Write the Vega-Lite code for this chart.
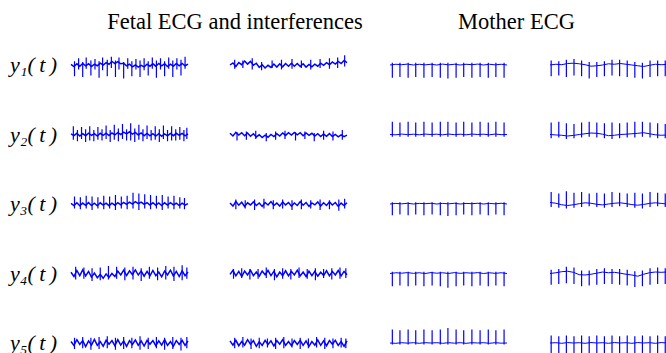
{
"$schema": "https://vega.github.io/schema/vega-lite/v6.json",
"padding": {"left": 10, "top": 10, "right": 0, "bottom": 0},
"background": "white",
"config": {"view": {"stroke": null}, "font": "Liberation Serif"},
"datasets": {
"fetal": [
{"r":1,"c":1,"x":0,"y":0.04},{"r":1,"c":1,"x":2.5,"y":-0.1},{"r":1,"c":1,"x":5,"y":0.08},{"r":1,"c":1,"x":7.5,"y":-0.08},{"r":1,"c":1,"x":10,"y":0.1},{"r":1,"c":1,"x":12.5,"y":-0.06},{"r":1,"c":1,"x":15,"y":0.08},{"r":1,"c":1,"x":17.5,"y":-0.1},{"r":1,"c":1,"x":20,"y":0.06},{"r":1,"c":1,"x":22.5,"y":-0.05},{"r":1,"c":1,"x":25,"y":0.12},{"r":1,"c":1,"x":27.5,"y":0.0},{"r":1,"c":1,"x":30,"y":0.16},{"r":1,"c":1,"x":32.5,"y":0.05},{"r":1,"c":1,"x":35,"y":0.24},{"r":1,"c":1,"x":37.5,"y":0.1},{"r":1,"c":1,"x":40,"y":0.22},{"r":1,"c":1,"x":42.5,"y":0.08},{"r":1,"c":1,"x":45,"y":0.12},{"r":1,"c":1,"x":47.5,"y":-0.06},{"r":1,"c":1,"x":50,"y":0.06},{"r":1,"c":1,"x":52.5,"y":-0.12},{"r":1,"c":1,"x":55,"y":0.0},{"r":1,"c":1,"x":57.5,"y":-0.14},{"r":1,"c":1,"x":60,"y":-0.02},{"r":1,"c":1,"x":62.5,"y":-0.12},{"r":1,"c":1,"x":65,"y":0.06},{"r":1,"c":1,"x":67.5,"y":-0.08},{"r":1,"c":1,"x":70,"y":0.08},{"r":1,"c":1,"x":72.5,"y":-0.08},{"r":1,"c":1,"x":75,"y":0.1},{"r":1,"c":1,"x":77.5,"y":-0.06},{"r":1,"c":1,"x":80,"y":0.08},{"r":1,"c":1,"x":82.5,"y":-0.1},{"r":1,"c":1,"x":85,"y":0.06},{"r":1,"c":1,"x":87.5,"y":-0.08},{"r":1,"c":1,"x":90,"y":0.1},{"r":1,"c":1,"x":92.5,"y":-0.06},{"r":1,"c":1,"x":95,"y":0.1},{"r":1,"c":1,"x":97.5,"y":-0.05},{"r":1,"c":1,"x":100,"y":0.06},
{"r":1,"c":1,"x":3,"y":-0.75,"y2":0.25},{"r":1,"c":1,"x":10,"y":-0.8,"y2":0.2},{"r":1,"c":1,"x":17,"y":-0.7,"y2":0.3},{"r":1,"c":1,"x":24,"y":-0.85,"y2":0.25},{"r":1,"c":1,"x":31,"y":-0.75,"y2":0.35},{"r":1,"c":1,"x":38,"y":-0.8,"y2":0.3},{"r":1,"c":1,"x":45,"y":-0.9,"y2":0.2},{"r":1,"c":1,"x":52,"y":-0.75,"y2":0.25},{"r":1,"c":1,"x":59,"y":-0.8,"y2":0.3},{"r":1,"c":1,"x":66,"y":-0.7,"y2":0.25},{"r":1,"c":1,"x":73,"y":-0.85,"y2":0.3},{"r":1,"c":1,"x":80,"y":-0.75,"y2":0.25},{"r":1,"c":1,"x":87,"y":-0.8,"y2":0.3},{"r":1,"c":1,"x":94,"y":-0.7,"y2":0.35},
{"r":1,"c":1,"x":6.5,"y":-0.3,"y2":0.45},{"r":1,"c":1,"x":13,"y":-0.25,"y2":0.5},{"r":1,"c":1,"x":20.5,"y":-0.3,"y2":0.4},{"r":1,"c":1,"x":27,"y":-0.35,"y2":0.5},{"r":1,"c":1,"x":34.5,"y":-0.2,"y2":0.55},{"r":1,"c":1,"x":41,"y":-0.3,"y2":0.5},{"r":1,"c":1,"x":48.5,"y":-0.25,"y2":0.45},{"r":1,"c":1,"x":55.5,"y":-0.3,"y2":0.4},{"r":1,"c":1,"x":62.5,"y":-0.35,"y2":0.45},{"r":1,"c":1,"x":69.5,"y":-0.25,"y2":0.5},{"r":1,"c":1,"x":76.5,"y":-0.3,"y2":0.45},{"r":1,"c":1,"x":83.5,"y":-0.25,"y2":0.5},{"r":1,"c":1,"x":90.5,"y":-0.3,"y2":0.45},{"r":1,"c":1,"x":97.5,"y":-0.25,"y2":0.55},

{"r":1,"c":2,"x":0,"y":0.0},{"r":1,"c":2,"x":2.5,"y":0.14},{"r":1,"c":2,"x":5,"y":-0.1},{"r":1,"c":2,"x":7.5,"y":0.16},{"r":1,"c":2,"x":10,"y":0.02},{"r":1,"c":2,"x":12.5,"y":0.26},{"r":1,"c":2,"x":15,"y":0.06},{"r":1,"c":2,"x":17.5,"y":0.24},{"r":1,"c":2,"x":20,"y":-0.02},{"r":1,"c":2,"x":22.5,"y":0.12},{"r":1,"c":2,"x":25,"y":-0.16},{"r":1,"c":2,"x":27.5,"y":0.02},{"r":1,"c":2,"x":30,"y":-0.2},{"r":1,"c":2,"x":32.5,"y":-0.02},{"r":1,"c":2,"x":35,"y":-0.16},{"r":1,"c":2,"x":37.5,"y":0.06},{"r":1,"c":2,"x":40,"y":-0.14},{"r":1,"c":2,"x":42.5,"y":0.08},{"r":1,"c":2,"x":45,"y":-0.12},{"r":1,"c":2,"x":47.5,"y":0.1},{"r":1,"c":2,"x":50,"y":-0.08},{"r":1,"c":2,"x":52.5,"y":0.12},{"r":1,"c":2,"x":55,"y":-0.08},{"r":1,"c":2,"x":57.5,"y":0.1},{"r":1,"c":2,"x":60,"y":-0.1},{"r":1,"c":2,"x":62.5,"y":0.08},{"r":1,"c":2,"x":65,"y":-0.14},{"r":1,"c":2,"x":67.5,"y":0.04},{"r":1,"c":2,"x":70,"y":-0.12},{"r":1,"c":2,"x":72.5,"y":0.06},{"r":1,"c":2,"x":75,"y":-0.08},{"r":1,"c":2,"x":77.5,"y":0.12},{"r":1,"c":2,"x":80,"y":-0.02},{"r":1,"c":2,"x":82.5,"y":0.16},{"r":1,"c":2,"x":85,"y":0.02},{"r":1,"c":2,"x":87.5,"y":0.2},{"r":1,"c":2,"x":90,"y":0.06},{"r":1,"c":2,"x":92.5,"y":0.24},{"r":1,"c":2,"x":95,"y":0.1},{"r":1,"c":2,"x":97.5,"y":0.3},{"r":1,"c":2,"x":100,"y":0.16},
{"r":1,"c":2,"x":4,"y":-0.25,"y2":0.35},{"r":1,"c":2,"x":11,"y":-0.2,"y2":0.3},{"r":1,"c":2,"x":19,"y":-0.3,"y2":0.45},{"r":1,"c":2,"x":27,"y":-0.35,"y2":0.2},{"r":1,"c":2,"x":36,"y":-0.2,"y2":0.3},{"r":1,"c":2,"x":44,"y":-0.3,"y2":0.35},{"r":1,"c":2,"x":53,"y":-0.25,"y2":0.4},{"r":1,"c":2,"x":61,"y":-0.2,"y2":0.3},{"r":1,"c":2,"x":69,"y":-0.3,"y2":0.35},{"r":1,"c":2,"x":77,"y":-0.2,"y2":0.4},{"r":1,"c":2,"x":85,"y":-0.25,"y2":0.45},{"r":1,"c":2,"x":92,"y":-0.2,"y2":0.5},{"r":1,"c":2,"x":98,"y":-0.1,"y2":0.65},

{"r":2,"c":1,"x":0,"y":0.04},{"r":2,"c":1,"x":2.5,"y":-0.08},{"r":2,"c":1,"x":5,"y":0.08},{"r":2,"c":1,"x":7.5,"y":-0.1},{"r":2,"c":1,"x":10,"y":0.06},{"r":2,"c":1,"x":12.5,"y":-0.08},{"r":2,"c":1,"x":15,"y":0.09},{"r":2,"c":1,"x":17.5,"y":-0.06},{"r":2,"c":1,"x":20,"y":0.05},{"r":2,"c":1,"x":22.5,"y":-0.1},{"r":2,"c":1,"x":25,"y":0.08},{"r":2,"c":1,"x":27.5,"y":-0.05},{"r":2,"c":1,"x":30,"y":0.09},{"r":2,"c":1,"x":32.5,"y":-0.07},{"r":2,"c":1,"x":35,"y":0.1},{"r":2,"c":1,"x":37.5,"y":-0.02},{"r":2,"c":1,"x":40,"y":0.12},{"r":2,"c":1,"x":42.5,"y":0.0},{"r":2,"c":1,"x":45,"y":0.16},{"r":2,"c":1,"x":47.5,"y":0.04},{"r":2,"c":1,"x":50,"y":0.18},{"r":2,"c":1,"x":52.5,"y":0.02},{"r":2,"c":1,"x":55,"y":0.14},{"r":2,"c":1,"x":57.5,"y":-0.03},{"r":2,"c":1,"x":60,"y":0.1},{"r":2,"c":1,"x":62.5,"y":-0.08},{"r":2,"c":1,"x":65,"y":0.07},{"r":2,"c":1,"x":67.5,"y":-0.09},{"r":2,"c":1,"x":70,"y":0.06},{"r":2,"c":1,"x":72.5,"y":-0.1},{"r":2,"c":1,"x":75,"y":0.05},{"r":2,"c":1,"x":77.5,"y":-0.12},{"r":2,"c":1,"x":80,"y":0.04},{"r":2,"c":1,"x":82.5,"y":-0.09},{"r":2,"c":1,"x":85,"y":0.07},{"r":2,"c":1,"x":87.5,"y":-0.08},{"r":2,"c":1,"x":90,"y":0.08},{"r":2,"c":1,"x":92.5,"y":-0.05},{"r":2,"c":1,"x":95,"y":0.07},{"r":2,"c":1,"x":97.5,"y":-0.09},{"r":2,"c":1,"x":100,"y":0.04},
{"r":2,"c":1,"x":2,"y":-0.35,"y2":0.55},{"r":2,"c":1,"x":9,"y":-0.3,"y2":0.5},{"r":2,"c":1,"x":16,"y":-0.4,"y2":0.55},{"r":2,"c":1,"x":23,"y":-0.35,"y2":0.5},{"r":2,"c":1,"x":30,"y":-0.3,"y2":0.6},{"r":2,"c":1,"x":37,"y":-0.35,"y2":0.65},{"r":2,"c":1,"x":44,"y":-0.3,"y2":0.7},{"r":2,"c":1,"x":51,"y":-0.4,"y2":0.75},{"r":2,"c":1,"x":58,"y":-0.35,"y2":0.65},{"r":2,"c":1,"x":65,"y":-0.3,"y2":0.6},{"r":2,"c":1,"x":72,"y":-0.35,"y2":0.55},{"r":2,"c":1,"x":79,"y":-0.3,"y2":0.6},{"r":2,"c":1,"x":86,"y":-0.4,"y2":0.55},{"r":2,"c":1,"x":93,"y":-0.35,"y2":0.5},{"r":2,"c":1,"x":99,"y":-0.3,"y2":0.45},
{"r":2,"c":1,"x":5.5,"y":-0.45,"y2":0.3},{"r":2,"c":1,"x":12.5,"y":-0.5,"y2":0.35},{"r":2,"c":1,"x":19.5,"y":-0.45,"y2":0.3},{"r":2,"c":1,"x":26.5,"y":-0.4,"y2":0.35},{"r":2,"c":1,"x":33.5,"y":-0.5,"y2":0.3},{"r":2,"c":1,"x":40.5,"y":-0.45,"y2":0.4},{"r":2,"c":1,"x":47.5,"y":-0.4,"y2":0.35},{"r":2,"c":1,"x":54.5,"y":-0.5,"y2":0.4},{"r":2,"c":1,"x":61.5,"y":-0.45,"y2":0.35},{"r":2,"c":1,"x":68.5,"y":-0.4,"y2":0.3},{"r":2,"c":1,"x":75.5,"y":-0.5,"y2":0.35},{"r":2,"c":1,"x":82.5,"y":-0.45,"y2":0.3},{"r":2,"c":1,"x":89.5,"y":-0.4,"y2":0.35},{"r":2,"c":1,"x":96.5,"y":-0.45,"y2":0.3},

{"r":2,"c":2,"x":0,"y":0.08},{"r":2,"c":2,"x":2.5,"y":-0.1},{"r":2,"c":2,"x":5,"y":0.14},{"r":2,"c":2,"x":7.5,"y":-0.04},{"r":2,"c":2,"x":10,"y":0.12},{"r":2,"c":2,"x":12.5,"y":-0.08},{"r":2,"c":2,"x":15,"y":0.1},{"r":2,"c":2,"x":17.5,"y":-0.12},{"r":2,"c":2,"x":20,"y":0.05},{"r":2,"c":2,"x":22.5,"y":-0.16},{"r":2,"c":2,"x":25,"y":-0.02},{"r":2,"c":2,"x":27.5,"y":-0.2},{"r":2,"c":2,"x":30,"y":-0.04},{"r":2,"c":2,"x":32.5,"y":-0.18},{"r":2,"c":2,"x":35,"y":0.0},{"r":2,"c":2,"x":37.5,"y":-0.14},{"r":2,"c":2,"x":40,"y":0.05},{"r":2,"c":2,"x":42.5,"y":-0.1},{"r":2,"c":2,"x":45,"y":0.1},{"r":2,"c":2,"x":47.5,"y":-0.06},{"r":2,"c":2,"x":50,"y":0.12},{"r":2,"c":2,"x":52.5,"y":-0.04},{"r":2,"c":2,"x":55,"y":0.14},{"r":2,"c":2,"x":57.5,"y":-0.02},{"r":2,"c":2,"x":60,"y":0.12},{"r":2,"c":2,"x":62.5,"y":-0.08},{"r":2,"c":2,"x":65,"y":0.1},{"r":2,"c":2,"x":67.5,"y":-0.06},{"r":2,"c":2,"x":70,"y":0.08},{"r":2,"c":2,"x":72.5,"y":-0.1},{"r":2,"c":2,"x":75,"y":0.05},{"r":2,"c":2,"x":77.5,"y":-0.14},{"r":2,"c":2,"x":80,"y":0.03},{"r":2,"c":2,"x":82.5,"y":-0.12},{"r":2,"c":2,"x":85,"y":0.06},{"r":2,"c":2,"x":87.5,"y":-0.14},{"r":2,"c":2,"x":90,"y":0.0},{"r":2,"c":2,"x":92.5,"y":-0.16},{"r":2,"c":2,"x":95,"y":-0.02},{"r":2,"c":2,"x":97.5,"y":-0.14},{"r":2,"c":2,"x":100,"y":-0.04},
{"r":2,"c":2,"x":6,"y":-0.4,"y2":0.15},{"r":2,"c":2,"x":14,"y":-0.35,"y2":0.2},{"r":2,"c":2,"x":22,"y":-0.3,"y2":0.25},{"r":2,"c":2,"x":31,"y":-0.45,"y2":0.1},{"r":2,"c":2,"x":39,"y":-0.35,"y2":0.2},{"r":2,"c":2,"x":47,"y":-0.3,"y2":0.25},{"r":2,"c":2,"x":56,"y":-0.4,"y2":0.15},{"r":2,"c":2,"x":64,"y":-0.3,"y2":0.2},{"r":2,"c":2,"x":72,"y":-0.45,"y2":0.1},{"r":2,"c":2,"x":80,"y":-0.35,"y2":0.25},{"r":2,"c":2,"x":88,"y":-0.4,"y2":0.2},{"r":2,"c":2,"x":96,"y":-0.35,"y2":0.3},

{"r":3,"c":1,"x":0,"y":0.04},{"r":3,"c":1,"x":2.5,"y":-0.1},{"r":3,"c":1,"x":5,"y":0.08},{"r":3,"c":1,"x":7.5,"y":-0.12},{"r":3,"c":1,"x":10,"y":0.06},{"r":3,"c":1,"x":12.5,"y":-0.09},{"r":3,"c":1,"x":15,"y":0.09},{"r":3,"c":1,"x":17.5,"y":-0.1},{"r":3,"c":1,"x":20,"y":0.05},{"r":3,"c":1,"x":22.5,"y":-0.12},{"r":3,"c":1,"x":25,"y":0.08},{"r":3,"c":1,"x":27.5,"y":-0.07},{"r":3,"c":1,"x":30,"y":0.06},{"r":3,"c":1,"x":32.5,"y":-0.11},{"r":3,"c":1,"x":35,"y":0.05},{"r":3,"c":1,"x":37.5,"y":-0.08},{"r":3,"c":1,"x":40,"y":0.09},{"r":3,"c":1,"x":42.5,"y":-0.06},{"r":3,"c":1,"x":45,"y":0.11},{"r":3,"c":1,"x":47.5,"y":-0.02},{"r":3,"c":1,"x":50,"y":0.13},{"r":3,"c":1,"x":52.5,"y":0.0},{"r":3,"c":1,"x":55,"y":0.15},{"r":3,"c":1,"x":57.5,"y":0.02},{"r":3,"c":1,"x":60,"y":0.13},{"r":3,"c":1,"x":62.5,"y":-0.03},{"r":3,"c":1,"x":65,"y":0.09},{"r":3,"c":1,"x":67.5,"y":-0.07},{"r":3,"c":1,"x":70,"y":0.08},{"r":3,"c":1,"x":72.5,"y":-0.09},{"r":3,"c":1,"x":75,"y":0.07},{"r":3,"c":1,"x":77.5,"y":-0.1},{"r":3,"c":1,"x":80,"y":0.08},{"r":3,"c":1,"x":82.5,"y":-0.07},{"r":3,"c":1,"x":85,"y":0.09},{"r":3,"c":1,"x":87.5,"y":-0.06},{"r":3,"c":1,"x":90,"y":0.05},{"r":3,"c":1,"x":92.5,"y":-0.1},{"r":3,"c":1,"x":95,"y":0.06},{"r":3,"c":1,"x":97.5,"y":-0.08},{"r":3,"c":1,"x":100,"y":0.02},
{"r":3,"c":1,"x":3,"y":-0.3,"y2":0.5},{"r":3,"c":1,"x":8,"y":-0.35,"y2":0.45},{"r":3,"c":1,"x":13,"y":-0.3,"y2":0.55},{"r":3,"c":1,"x":18,"y":-0.4,"y2":0.5},{"r":3,"c":1,"x":23,"y":-0.3,"y2":0.45},{"r":3,"c":1,"x":28,"y":-0.35,"y2":0.55},{"r":3,"c":1,"x":33,"y":-0.3,"y2":0.5},{"r":3,"c":1,"x":38,"y":-0.4,"y2":0.6},{"r":3,"c":1,"x":43,"y":-0.3,"y2":0.5},{"r":3,"c":1,"x":48,"y":-0.35,"y2":0.55},{"r":3,"c":1,"x":53,"y":-0.3,"y2":0.75},{"r":3,"c":1,"x":58,"y":-0.4,"y2":0.7},{"r":3,"c":1,"x":63,"y":-0.3,"y2":0.65},{"r":3,"c":1,"x":68,"y":-0.35,"y2":0.6},{"r":3,"c":1,"x":73,"y":-0.3,"y2":0.55},{"r":3,"c":1,"x":78,"y":-0.4,"y2":0.6},{"r":3,"c":1,"x":83,"y":-0.3,"y2":0.5},{"r":3,"c":1,"x":88,"y":-0.35,"y2":0.55},{"r":3,"c":1,"x":93,"y":-0.3,"y2":0.45},{"r":3,"c":1,"x":97,"y":-0.35,"y2":0.4},

{"r":3,"c":2,"x":0,"y":0.06},{"r":3,"c":2,"x":2.5,"y":-0.14},{"r":3,"c":2,"x":5,"y":0.16},{"r":3,"c":2,"x":7.5,"y":-0.08},{"r":3,"c":2,"x":10,"y":0.12},{"r":3,"c":2,"x":12.5,"y":-0.16},{"r":3,"c":2,"x":15,"y":0.08},{"r":3,"c":2,"x":17.5,"y":-0.06},{"r":3,"c":2,"x":20,"y":0.14},{"r":3,"c":2,"x":22.5,"y":-0.1},{"r":3,"c":2,"x":25,"y":0.07},{"r":3,"c":2,"x":27.5,"y":-0.16},{"r":3,"c":2,"x":30,"y":0.1},{"r":3,"c":2,"x":32.5,"y":-0.07},{"r":3,"c":2,"x":35,"y":0.16},{"r":3,"c":2,"x":37.5,"y":-0.1},{"r":3,"c":2,"x":40,"y":0.06},{"r":3,"c":2,"x":42.5,"y":-0.14},{"r":3,"c":2,"x":45,"y":0.14},{"r":3,"c":2,"x":47.5,"y":-0.06},{"r":3,"c":2,"x":50,"y":0.1},{"r":3,"c":2,"x":52.5,"y":-0.14},{"r":3,"c":2,"x":55,"y":0.07},{"r":3,"c":2,"x":57.5,"y":-0.1},{"r":3,"c":2,"x":60,"y":0.16},{"r":3,"c":2,"x":62.5,"y":-0.08},{"r":3,"c":2,"x":65,"y":0.1},{"r":3,"c":2,"x":67.5,"y":-0.16},{"r":3,"c":2,"x":70,"y":0.07},{"r":3,"c":2,"x":72.5,"y":-0.06},{"r":3,"c":2,"x":75,"y":0.14},{"r":3,"c":2,"x":77.5,"y":-0.14},{"r":3,"c":2,"x":80,"y":0.08},{"r":3,"c":2,"x":82.5,"y":-0.1},{"r":3,"c":2,"x":85,"y":0.14},{"r":3,"c":2,"x":87.5,"y":-0.07},{"r":3,"c":2,"x":90,"y":0.1},{"r":3,"c":2,"x":92.5,"y":-0.16},{"r":3,"c":2,"x":95,"y":0.06},{"r":3,"c":2,"x":97.5,"y":-0.1},{"r":3,"c":2,"x":100,"y":0.08},
{"r":3,"c":2,"x":5,"y":-0.35,"y2":0.3},{"r":3,"c":2,"x":13,"y":-0.3,"y2":0.25},{"r":3,"c":2,"x":21,"y":-0.4,"y2":0.3},{"r":3,"c":2,"x":29,"y":-0.3,"y2":0.35},{"r":3,"c":2,"x":37,"y":-0.35,"y2":0.25},{"r":3,"c":2,"x":45,"y":-0.3,"y2":0.3},{"r":3,"c":2,"x":53,"y":-0.4,"y2":0.25},{"r":3,"c":2,"x":61,"y":-0.35,"y2":0.3},{"r":3,"c":2,"x":69,"y":-0.3,"y2":0.25},{"r":3,"c":2,"x":77,"y":-0.4,"y2":0.3},{"r":3,"c":2,"x":85,"y":-0.35,"y2":0.25},{"r":3,"c":2,"x":93,"y":-0.45,"y2":0.3},{"r":3,"c":2,"x":98,"y":-0.3,"y2":0.35},

{"r":4,"c":1,"x":0,"y":0.08},{"r":4,"c":1,"x":2.5,"y":-0.2},{"r":4,"c":1,"x":5,"y":0.2},{"r":4,"c":1,"x":7.5,"y":-0.14},{"r":4,"c":1,"x":10,"y":0.24},{"r":4,"c":1,"x":12.5,"y":-0.16},{"r":4,"c":1,"x":15,"y":0.14},{"r":4,"c":1,"x":17.5,"y":-0.24},{"r":4,"c":1,"x":20,"y":0.03},{"r":4,"c":1,"x":22.5,"y":-0.28},{"r":4,"c":1,"x":25,"y":-0.06},{"r":4,"c":1,"x":27.5,"y":-0.32},{"r":4,"c":1,"x":30,"y":-0.03},{"r":4,"c":1,"x":32.5,"y":-0.26},{"r":4,"c":1,"x":35,"y":0.0},{"r":4,"c":1,"x":37.5,"y":-0.2},{"r":4,"c":1,"x":40,"y":0.16},{"r":4,"c":1,"x":42.5,"y":-0.1},{"r":4,"c":1,"x":45,"y":0.22},{"r":4,"c":1,"x":47.5,"y":-0.14},{"r":4,"c":1,"x":50,"y":0.18},{"r":4,"c":1,"x":52.5,"y":-0.08},{"r":4,"c":1,"x":55,"y":0.24},{"r":4,"c":1,"x":57.5,"y":-0.1},{"r":4,"c":1,"x":60,"y":0.16},{"r":4,"c":1,"x":62.5,"y":-0.18},{"r":4,"c":1,"x":65,"y":0.14},{"r":4,"c":1,"x":67.5,"y":-0.16},{"r":4,"c":1,"x":70,"y":0.2},{"r":4,"c":1,"x":72.5,"y":-0.14},{"r":4,"c":1,"x":75,"y":0.1},{"r":4,"c":1,"x":77.5,"y":-0.22},{"r":4,"c":1,"x":80,"y":0.16},{"r":4,"c":1,"x":82.5,"y":-0.1},{"r":4,"c":1,"x":85,"y":0.22},{"r":4,"c":1,"x":87.5,"y":-0.16},{"r":4,"c":1,"x":90,"y":0.14},{"r":4,"c":1,"x":92.5,"y":-0.2},{"r":4,"c":1,"x":95,"y":0.18},{"r":4,"c":1,"x":97.5,"y":-0.14},{"r":4,"c":1,"x":100,"y":0.1},
{"r":4,"c":1,"x":4,"y":-0.4,"y2":0.45},{"r":4,"c":1,"x":11,"y":-0.35,"y2":0.4},{"r":4,"c":1,"x":18,"y":-0.5,"y2":0.35},{"r":4,"c":1,"x":25,"y":-0.45,"y2":0.4},{"r":4,"c":1,"x":32,"y":-0.4,"y2":0.5},{"r":4,"c":1,"x":39,"y":-0.35,"y2":0.45},{"r":4,"c":1,"x":46,"y":-0.45,"y2":0.4},{"r":4,"c":1,"x":53,"y":-0.4,"y2":0.45},{"r":4,"c":1,"x":60,"y":-0.5,"y2":0.35},{"r":4,"c":1,"x":67,"y":-0.35,"y2":0.45},{"r":4,"c":1,"x":74,"y":-0.45,"y2":0.4},{"r":4,"c":1,"x":81,"y":-0.4,"y2":0.5},{"r":4,"c":1,"x":88,"y":-0.5,"y2":0.45},{"r":4,"c":1,"x":95,"y":-0.45,"y2":0.55},{"r":4,"c":1,"x":99,"y":-0.35,"y2":0.4},

{"r":4,"c":2,"x":0,"y":-0.06},{"r":4,"c":2,"x":2.5,"y":0.2},{"r":4,"c":2,"x":5,"y":-0.16},{"r":4,"c":2,"x":7.5,"y":0.14},{"r":4,"c":2,"x":10,"y":-0.2},{"r":4,"c":2,"x":12.5,"y":0.16},{"r":4,"c":2,"x":15,"y":-0.1},{"r":4,"c":2,"x":17.5,"y":0.22},{"r":4,"c":2,"x":20,"y":-0.14},{"r":4,"c":2,"x":22.5,"y":0.1},{"r":4,"c":2,"x":25,"y":-0.18},{"r":4,"c":2,"x":27.5,"y":0.16},{"r":4,"c":2,"x":30,"y":-0.08},{"r":4,"c":2,"x":32.5,"y":0.2},{"r":4,"c":2,"x":35,"y":-0.14},{"r":4,"c":2,"x":37.5,"y":0.14},{"r":4,"c":2,"x":40,"y":-0.22},{"r":4,"c":2,"x":42.5,"y":0.1},{"r":4,"c":2,"x":45,"y":-0.14},{"r":4,"c":2,"x":47.5,"y":0.18},{"r":4,"c":2,"x":50,"y":-0.16},{"r":4,"c":2,"x":52.5,"y":0.14},{"r":4,"c":2,"x":55,"y":-0.1},{"r":4,"c":2,"x":57.5,"y":0.22},{"r":4,"c":2,"x":60,"y":-0.16},{"r":4,"c":2,"x":62.5,"y":0.1},{"r":4,"c":2,"x":65,"y":-0.2},{"r":4,"c":2,"x":67.5,"y":0.16},{"r":4,"c":2,"x":70,"y":-0.14},{"r":4,"c":2,"x":72.5,"y":0.14},{"r":4,"c":2,"x":75,"y":-0.18},{"r":4,"c":2,"x":77.5,"y":0.08},{"r":4,"c":2,"x":80,"y":-0.14},{"r":4,"c":2,"x":82.5,"y":0.18},{"r":4,"c":2,"x":85,"y":-0.16},{"r":4,"c":2,"x":87.5,"y":0.14},{"r":4,"c":2,"x":90,"y":-0.1},{"r":4,"c":2,"x":92.5,"y":0.2},{"r":4,"c":2,"x":95,"y":-0.16},{"r":4,"c":2,"x":97.5,"y":0.14},{"r":4,"c":2,"x":100,"y":-0.08},
{"r":4,"c":2,"x":3,"y":-0.35,"y2":0.3},{"r":4,"c":2,"x":10,"y":-0.3,"y2":0.35},{"r":4,"c":2,"x":17,"y":-0.4,"y2":0.3},{"r":4,"c":2,"x":24,"y":-0.35,"y2":0.3},{"r":4,"c":2,"x":31,"y":-0.3,"y2":0.4},{"r":4,"c":2,"x":38,"y":-0.45,"y2":0.3},{"r":4,"c":2,"x":45,"y":-0.35,"y2":0.35},{"r":4,"c":2,"x":52,"y":-0.4,"y2":0.3},{"r":4,"c":2,"x":59,"y":-0.3,"y2":0.4},{"r":4,"c":2,"x":66,"y":-0.35,"y2":0.3},{"r":4,"c":2,"x":73,"y":-0.45,"y2":0.35},{"r":4,"c":2,"x":80,"y":-0.3,"y2":0.3},{"r":4,"c":2,"x":87,"y":-0.4,"y2":0.35},{"r":4,"c":2,"x":94,"y":-0.35,"y2":0.4},{"r":4,"c":2,"x":99,"y":-0.3,"y2":0.35},

{"r":5,"c":1,"x":0,"y":0.1},{"r":5,"c":1,"x":2.5,"y":-0.16},{"r":5,"c":1,"x":5,"y":0.22},{"r":5,"c":1,"x":7.5,"y":-0.1},{"r":5,"c":1,"x":10,"y":0.16},{"r":5,"c":1,"x":12.5,"y":-0.24},{"r":5,"c":1,"x":15,"y":0.14},{"r":5,"c":1,"x":17.5,"y":-0.14},{"r":5,"c":1,"x":20,"y":0.24},{"r":5,"c":1,"x":22.5,"y":-0.16},{"r":5,"c":1,"x":25,"y":0.1},{"r":5,"c":1,"x":27.5,"y":-0.22},{"r":5,"c":1,"x":30,"y":0.18},{"r":5,"c":1,"x":32.5,"y":-0.08},{"r":5,"c":1,"x":35,"y":0.16},{"r":5,"c":1,"x":37.5,"y":-0.18},{"r":5,"c":1,"x":40,"y":0.22},{"r":5,"c":1,"x":42.5,"y":-0.14},{"r":5,"c":1,"x":45,"y":0.14},{"r":5,"c":1,"x":47.5,"y":-0.22},{"r":5,"c":1,"x":50,"y":0.16},{"r":5,"c":1,"x":52.5,"y":-0.1},{"r":5,"c":1,"x":55,"y":0.2},{"r":5,"c":1,"x":57.5,"y":-0.16},{"r":5,"c":1,"x":60,"y":0.14},{"r":5,"c":1,"x":62.5,"y":-0.2},{"r":5,"c":1,"x":65,"y":0.18},{"r":5,"c":1,"x":67.5,"y":-0.08},{"r":5,"c":1,"x":70,"y":0.16},{"r":5,"c":1,"x":72.5,"y":-0.18},{"r":5,"c":1,"x":75,"y":0.14},{"r":5,"c":1,"x":77.5,"y":-0.14},{"r":5,"c":1,"x":80,"y":0.22},{"r":5,"c":1,"x":82.5,"y":-0.16},{"r":5,"c":1,"x":85,"y":0.1},{"r":5,"c":1,"x":87.5,"y":-0.22},{"r":5,"c":1,"x":90,"y":0.16},{"r":5,"c":1,"x":92.5,"y":-0.1},{"r":5,"c":1,"x":95,"y":0.18},{"r":5,"c":1,"x":97.5,"y":-0.16},{"r":5,"c":1,"x":100,"y":0.14},
{"r":5,"c":1,"x":3,"y":-0.4,"y2":0.35},{"r":5,"c":1,"x":10,"y":-0.35,"y2":0.4},{"r":5,"c":1,"x":17,"y":-0.45,"y2":0.35},{"r":5,"c":1,"x":24,"y":-0.4,"y2":0.4},{"r":5,"c":1,"x":31,"y":-0.35,"y2":0.45},{"r":5,"c":1,"x":38,"y":-0.45,"y2":0.35},{"r":5,"c":1,"x":45,"y":-0.4,"y2":0.4},{"r":5,"c":1,"x":52,"y":-0.35,"y2":0.35},{"r":5,"c":1,"x":59,"y":-0.45,"y2":0.45},{"r":5,"c":1,"x":66,"y":-0.4,"y2":0.35},{"r":5,"c":1,"x":73,"y":-0.35,"y2":0.4},{"r":5,"c":1,"x":80,"y":-0.45,"y2":0.35},{"r":5,"c":1,"x":87,"y":-0.4,"y2":0.4},{"r":5,"c":1,"x":94,"y":-0.5,"y2":0.35},{"r":5,"c":1,"x":99,"y":-0.35,"y2":0.4},

{"r":5,"c":2,"x":0,"y":0.14},{"r":5,"c":2,"x":2.5,"y":-0.14},{"r":5,"c":2,"x":5,"y":0.18},{"r":5,"c":2,"x":7.5,"y":-0.18},{"r":5,"c":2,"x":10,"y":0.1},{"r":5,"c":2,"x":12.5,"y":-0.14},{"r":5,"c":2,"x":15,"y":0.22},{"r":5,"c":2,"x":17.5,"y":-0.08},{"r":5,"c":2,"x":20,"y":0.16},{"r":5,"c":2,"x":22.5,"y":-0.22},{"r":5,"c":2,"x":25,"y":0.08},{"r":5,"c":2,"x":27.5,"y":-0.16},{"r":5,"c":2,"x":30,"y":0.18},{"r":5,"c":2,"x":32.5,"y":-0.1},{"r":5,"c":2,"x":35,"y":0.14},{"r":5,"c":2,"x":37.5,"y":-0.2},{"r":5,"c":2,"x":40,"y":0.16},{"r":5,"c":2,"x":42.5,"y":-0.08},{"r":5,"c":2,"x":45,"y":0.22},{"r":5,"c":2,"x":47.5,"y":-0.16},{"r":5,"c":2,"x":50,"y":0.1},{"r":5,"c":2,"x":52.5,"y":-0.18},{"r":5,"c":2,"x":55,"y":0.16},{"r":5,"c":2,"x":57.5,"y":-0.1},{"r":5,"c":2,"x":60,"y":0.18},{"r":5,"c":2,"x":62.5,"y":-0.16},{"r":5,"c":2,"x":65,"y":0.14},{"r":5,"c":2,"x":67.5,"y":-0.22},{"r":5,"c":2,"x":70,"y":0.1},{"r":5,"c":2,"x":72.5,"y":-0.14},{"r":5,"c":2,"x":75,"y":0.2},{"r":5,"c":2,"x":77.5,"y":-0.16},{"r":5,"c":2,"x":80,"y":0.14},{"r":5,"c":2,"x":82.5,"y":-0.18},{"r":5,"c":2,"x":85,"y":0.16},{"r":5,"c":2,"x":87.5,"y":-0.08},{"r":5,"c":2,"x":90,"y":0.18},{"r":5,"c":2,"x":92.5,"y":-0.16},{"r":5,"c":2,"x":95,"y":0.1},{"r":5,"c":2,"x":97.5,"y":-0.22},{"r":5,"c":2,"x":100,"y":0.14},
{"r":5,"c":2,"x":4,"y":-0.35,"y2":0.35},{"r":5,"c":2,"x":11,"y":-0.3,"y2":0.4},{"r":5,"c":2,"x":18,"y":-0.4,"y2":0.3},{"r":5,"c":2,"x":25,"y":-0.35,"y2":0.35},{"r":5,"c":2,"x":32,"y":-0.3,"y2":0.3},{"r":5,"c":2,"x":39,"y":-0.4,"y2":0.35},{"r":5,"c":2,"x":46,"y":-0.35,"y2":0.4},{"r":5,"c":2,"x":53,"y":-0.3,"y2":0.3},{"r":5,"c":2,"x":60,"y":-0.4,"y2":0.35},{"r":5,"c":2,"x":67,"y":-0.35,"y2":0.3},{"r":5,"c":2,"x":74,"y":-0.3,"y2":0.4},{"r":5,"c":2,"x":81,"y":-0.4,"y2":0.35},{"r":5,"c":2,"x":88,"y":-0.35,"y2":0.3},{"r":5,"c":2,"x":95,"y":-0.3,"y2":0.35},{"r":5,"c":2,"x":99,"y":-0.35,"y2":0.3}
],
"mother": [
{"r":1,"c":3,"x":0,"y":0},{"r":1,"c":3,"x":5,"y":0.05},{"r":1,"c":3,"x":10,"y":0.02},{"r":1,"c":3,"x":15,"y":0.06},{"r":1,"c":3,"x":20,"y":0},{"r":1,"c":3,"x":25,"y":0.05},{"r":1,"c":3,"x":30,"y":0.01},{"r":1,"c":3,"x":35,"y":0.05},{"r":1,"c":3,"x":40,"y":0},{"r":1,"c":3,"x":45,"y":0.06},{"r":1,"c":3,"x":50,"y":0.01},{"r":1,"c":3,"x":55,"y":0.05},{"r":1,"c":3,"x":60,"y":0},{"r":1,"c":3,"x":65,"y":0.05},{"r":1,"c":3,"x":70,"y":0.02},{"r":1,"c":3,"x":75,"y":0.06},{"r":1,"c":3,"x":80,"y":0},{"r":1,"c":3,"x":85,"y":0.05},{"r":1,"c":3,"x":90,"y":0.01},{"r":1,"c":3,"x":95,"y":0.05},{"r":1,"c":3,"x":100,"y":0},
{"r":1,"c":3,"x":2,"y":-0.85,"y2":0.15},{"r":1,"c":3,"x":8.5,"y":-0.8,"y2":0.15},{"r":1,"c":3,"x":15.5,"y":-0.85,"y2":0.15},{"r":1,"c":3,"x":22,"y":-0.8,"y2":0.15},{"r":1,"c":3,"x":29,"y":-0.85,"y2":0.15},{"r":1,"c":3,"x":36,"y":-0.8,"y2":0.15},{"r":1,"c":3,"x":43,"y":-0.85,"y2":0.15},{"r":1,"c":3,"x":49.5,"y":-0.9,"y2":0.15},{"r":1,"c":3,"x":56.5,"y":-0.85,"y2":0.15},{"r":1,"c":3,"x":63,"y":-0.8,"y2":0.15},{"r":1,"c":3,"x":70,"y":-0.85,"y2":0.15},{"r":1,"c":3,"x":77,"y":-0.8,"y2":0.15},{"r":1,"c":3,"x":84,"y":-0.85,"y2":0.15},{"r":1,"c":3,"x":90.5,"y":-0.8,"y2":0.15},{"r":1,"c":3,"x":97.5,"y":-0.85,"y2":0.15},

{"r":1,"c":4,"x":0,"y":0},{"r":1,"c":4,"x":5,"y":0.05},{"r":1,"c":4,"x":10,"y":0.02},{"r":1,"c":4,"x":15,"y":0.1},{"r":1,"c":4,"x":20,"y":0.12},{"r":1,"c":4,"x":25,"y":0.08},{"r":1,"c":4,"x":30,"y":0.02},{"r":1,"c":4,"x":35,"y":-0.08},{"r":1,"c":4,"x":40,"y":-0.05},{"r":1,"c":4,"x":45,"y":0},{"r":1,"c":4,"x":50,"y":0.08},{"r":1,"c":4,"x":55,"y":0.05},{"r":1,"c":4,"x":60,"y":0.1},{"r":1,"c":4,"x":65,"y":0.05},{"r":1,"c":4,"x":70,"y":0},{"r":1,"c":4,"x":75,"y":-0.05},{"r":1,"c":4,"x":80,"y":-0.1},{"r":1,"c":4,"x":85,"y":-0.02},{"r":1,"c":4,"x":90,"y":0.05},{"r":1,"c":4,"x":95,"y":0.02},{"r":1,"c":4,"x":100,"y":0.04},
{"r":1,"c":4,"x":1,"y":-0.75,"y2":0.3},{"r":1,"c":4,"x":7.5,"y":-0.7,"y2":0.25},{"r":1,"c":4,"x":14,"y":-0.8,"y2":0.35},{"r":1,"c":4,"x":20.5,"y":-0.7,"y2":0.4},{"r":1,"c":4,"x":27,"y":-0.75,"y2":0.3},{"r":1,"c":4,"x":33.5,"y":-0.9,"y2":0.2},{"r":1,"c":4,"x":40,"y":-0.8,"y2":0.2},{"r":1,"c":4,"x":46.5,"y":-0.75,"y2":0.25},{"r":1,"c":4,"x":53,"y":-0.7,"y2":0.35},{"r":1,"c":4,"x":59.5,"y":-0.75,"y2":0.35},{"r":1,"c":4,"x":66,"y":-0.8,"y2":0.3},{"r":1,"c":4,"x":72.5,"y":-0.85,"y2":0.2},{"r":1,"c":4,"x":79,"y":-0.9,"y2":0.15},{"r":1,"c":4,"x":85.5,"y":-0.8,"y2":0.3},{"r":1,"c":4,"x":92,"y":-0.75,"y2":0.3},{"r":1,"c":4,"x":98.5,"y":-0.75,"y2":0.3},

{"r":2,"c":3,"x":0,"y":0},{"r":2,"c":3,"x":5,"y":-0.02},{"r":2,"c":3,"x":10,"y":0.03},{"r":2,"c":3,"x":15,"y":-0.01},{"r":2,"c":3,"x":20,"y":0.02},{"r":2,"c":3,"x":25,"y":-0.02},{"r":2,"c":3,"x":30,"y":0.03},{"r":2,"c":3,"x":35,"y":0},{"r":2,"c":3,"x":40,"y":0.02},{"r":2,"c":3,"x":45,"y":-0.02},{"r":2,"c":3,"x":50,"y":0.03},{"r":2,"c":3,"x":55,"y":-0.01},{"r":2,"c":3,"x":60,"y":0.02},{"r":2,"c":3,"x":65,"y":-0.02},{"r":2,"c":3,"x":70,"y":0.03},{"r":2,"c":3,"x":75,"y":0},{"r":2,"c":3,"x":80,"y":0.02},{"r":2,"c":3,"x":85,"y":-0.02},{"r":2,"c":3,"x":90,"y":0.03},{"r":2,"c":3,"x":95,"y":-0.01},{"r":2,"c":3,"x":100,"y":0},
{"r":2,"c":3,"x":2,"y":-0.15,"y2":0.85},{"r":2,"c":3,"x":8.5,"y":-0.15,"y2":0.8},{"r":2,"c":3,"x":15.5,"y":-0.15,"y2":0.85},{"r":2,"c":3,"x":22,"y":-0.15,"y2":0.8},{"r":2,"c":3,"x":29,"y":-0.15,"y2":0.85},{"r":2,"c":3,"x":36,"y":-0.15,"y2":0.8},{"r":2,"c":3,"x":43,"y":-0.15,"y2":0.85},{"r":2,"c":3,"x":49.5,"y":-0.15,"y2":0.85},{"r":2,"c":3,"x":56.5,"y":-0.15,"y2":0.8},{"r":2,"c":3,"x":63,"y":-0.15,"y2":0.85},{"r":2,"c":3,"x":70,"y":-0.15,"y2":0.8},{"r":2,"c":3,"x":77,"y":-0.15,"y2":0.85},{"r":2,"c":3,"x":84,"y":-0.15,"y2":0.8},{"r":2,"c":3,"x":90.5,"y":-0.15,"y2":0.85},{"r":2,"c":3,"x":97.5,"y":-0.15,"y2":0.8},

{"r":2,"c":4,"x":0,"y":0},{"r":2,"c":4,"x":5,"y":-0.03},{"r":2,"c":4,"x":10,"y":-0.05},{"r":2,"c":4,"x":15,"y":-0.1},{"r":2,"c":4,"x":20,"y":-0.06},{"r":2,"c":4,"x":25,"y":0},{"r":2,"c":4,"x":30,"y":0.05},{"r":2,"c":4,"x":35,"y":0.1},{"r":2,"c":4,"x":40,"y":0.08},{"r":2,"c":4,"x":45,"y":0.02},{"r":2,"c":4,"x":50,"y":-0.08},{"r":2,"c":4,"x":55,"y":-0.05},{"r":2,"c":4,"x":60,"y":0},{"r":2,"c":4,"x":65,"y":0.02},{"r":2,"c":4,"x":70,"y":0.05},{"r":2,"c":4,"x":75,"y":0.08},{"r":2,"c":4,"x":80,"y":0.12},{"r":2,"c":4,"x":85,"y":0.05},{"r":2,"c":4,"x":90,"y":-0.02},{"r":2,"c":4,"x":95,"y":-0.05},{"r":2,"c":4,"x":100,"y":-0.03},
{"r":2,"c":4,"x":1,"y":-0.25,"y2":0.8},{"r":2,"c":4,"x":7.5,"y":-0.2,"y2":0.85},{"r":2,"c":4,"x":14,"y":-0.3,"y2":0.75},{"r":2,"c":4,"x":20.5,"y":-0.25,"y2":0.7},{"r":2,"c":4,"x":27,"y":-0.2,"y2":0.8},{"r":2,"c":4,"x":33.5,"y":-0.15,"y2":0.85},{"r":2,"c":4,"x":40,"y":-0.2,"y2":0.8},{"r":2,"c":4,"x":46.5,"y":-0.25,"y2":0.75},{"r":2,"c":4,"x":53,"y":-0.3,"y2":0.8},{"r":2,"c":4,"x":59.5,"y":-0.25,"y2":0.75},{"r":2,"c":4,"x":66,"y":-0.2,"y2":0.8},{"r":2,"c":4,"x":72.5,"y":-0.2,"y2":0.85},{"r":2,"c":4,"x":79,"y":-0.15,"y2":0.85},{"r":2,"c":4,"x":85.5,"y":-0.2,"y2":0.8},{"r":2,"c":4,"x":92,"y":-0.25,"y2":0.75},{"r":2,"c":4,"x":98.5,"y":-0.25,"y2":0.7},

{"r":3,"c":3,"x":0,"y":0},{"r":3,"c":3,"x":5,"y":0.04},{"r":3,"c":3,"x":10,"y":0.01},{"r":3,"c":3,"x":15,"y":0.05},{"r":3,"c":3,"x":20,"y":0},{"r":3,"c":3,"x":25,"y":0.04},{"r":3,"c":3,"x":30,"y":0.02},{"r":3,"c":3,"x":35,"y":0.05},{"r":3,"c":3,"x":40,"y":0},{"r":3,"c":3,"x":45,"y":0.04},{"r":3,"c":3,"x":50,"y":0.01},{"r":3,"c":3,"x":55,"y":0.05},{"r":3,"c":3,"x":60,"y":0},{"r":3,"c":3,"x":65,"y":0.04},{"r":3,"c":3,"x":70,"y":0.02},{"r":3,"c":3,"x":75,"y":0.05},{"r":3,"c":3,"x":80,"y":0},{"r":3,"c":3,"x":85,"y":0.04},{"r":3,"c":3,"x":90,"y":0.01},{"r":3,"c":3,"x":95,"y":0.05},{"r":3,"c":3,"x":100,"y":0},
{"r":3,"c":3,"x":2,"y":-0.75,"y2":0.12},{"r":3,"c":3,"x":8.5,"y":-0.7,"y2":0.12},{"r":3,"c":3,"x":15.5,"y":-0.75,"y2":0.12},{"r":3,"c":3,"x":22,"y":-0.7,"y2":0.12},{"r":3,"c":3,"x":29,"y":-0.75,"y2":0.12},{"r":3,"c":3,"x":36,"y":-0.7,"y2":0.12},{"r":3,"c":3,"x":43,"y":-0.75,"y2":0.12},{"r":3,"c":3,"x":49.5,"y":-0.8,"y2":0.12},{"r":3,"c":3,"x":56.5,"y":-0.75,"y2":0.12},{"r":3,"c":3,"x":63,"y":-0.7,"y2":0.12},{"r":3,"c":3,"x":70,"y":-0.75,"y2":0.12},{"r":3,"c":3,"x":77,"y":-0.7,"y2":0.12},{"r":3,"c":3,"x":84,"y":-0.75,"y2":0.12},{"r":3,"c":3,"x":90.5,"y":-0.7,"y2":0.12},{"r":3,"c":3,"x":97.5,"y":-0.75,"y2":0.12},

{"r":3,"c":4,"x":0,"y":0.1},{"r":3,"c":4,"x":5,"y":0.05},{"r":3,"c":4,"x":10,"y":-0.05},{"r":3,"c":4,"x":15,"y":-0.1},{"r":3,"c":4,"x":20,"y":-0.05},{"r":3,"c":4,"x":25,"y":0.02},{"r":3,"c":4,"x":30,"y":0.08},{"r":3,"c":4,"x":35,"y":0.05},{"r":3,"c":4,"x":40,"y":-0.02},{"r":3,"c":4,"x":45,"y":-0.06},{"r":3,"c":4,"x":50,"y":0},{"r":3,"c":4,"x":55,"y":0.05},{"r":3,"c":4,"x":60,"y":0.08},{"r":3,"c":4,"x":65,"y":0.03},{"r":3,"c":4,"x":70,"y":-0.04},{"r":3,"c":4,"x":75,"y":-0.08},{"r":3,"c":4,"x":80,"y":-0.03},{"r":3,"c":4,"x":85,"y":0.04},{"r":3,"c":4,"x":90,"y":0.08},{"r":3,"c":4,"x":95,"y":0.04},{"r":3,"c":4,"x":100,"y":0},
{"r":3,"c":4,"x":1,"y":-0.2,"y2":0.8},{"r":3,"c":4,"x":7.5,"y":-0.25,"y2":0.7},{"r":3,"c":4,"x":14,"y":-0.3,"y2":0.85},{"r":3,"c":4,"x":20.5,"y":-0.25,"y2":0.75},{"r":3,"c":4,"x":27,"y":-0.2,"y2":0.8},{"r":3,"c":4,"x":33.5,"y":-0.15,"y2":0.7},{"r":3,"c":4,"x":40,"y":-0.2,"y2":0.75},{"r":3,"c":4,"x":46.5,"y":-0.25,"y2":0.7},{"r":3,"c":4,"x":53,"y":-0.2,"y2":0.8},{"r":3,"c":4,"x":59.5,"y":-0.15,"y2":0.75},{"r":3,"c":4,"x":66,"y":-0.2,"y2":0.7},{"r":3,"c":4,"x":72.5,"y":-0.25,"y2":0.75},{"r":3,"c":4,"x":79,"y":-0.3,"y2":0.7},{"r":3,"c":4,"x":85.5,"y":-0.2,"y2":0.8},{"r":3,"c":4,"x":92,"y":-0.15,"y2":0.75},{"r":3,"c":4,"x":98.5,"y":-0.2,"y2":0.7},

{"r":4,"c":3,"x":0,"y":0},{"r":4,"c":3,"x":5,"y":0.05},{"r":4,"c":3,"x":10,"y":0.02},{"r":4,"c":3,"x":15,"y":0.06},{"r":4,"c":3,"x":20,"y":0.01},{"r":4,"c":3,"x":25,"y":0.05},{"r":4,"c":3,"x":30,"y":0},{"r":4,"c":3,"x":35,"y":0.06},{"r":4,"c":3,"x":40,"y":0.02},{"r":4,"c":3,"x":45,"y":0.05},{"r":4,"c":3,"x":50,"y":0},{"r":4,"c":3,"x":55,"y":0.06},{"r":4,"c":3,"x":60,"y":0.01},{"r":4,"c":3,"x":65,"y":0.05},{"r":4,"c":3,"x":70,"y":0.02},{"r":4,"c":3,"x":75,"y":0.06},{"r":4,"c":3,"x":80,"y":0},{"r":4,"c":3,"x":85,"y":0.05},{"r":4,"c":3,"x":90,"y":0.01},{"r":4,"c":3,"x":95,"y":0.05},{"r":4,"c":3,"x":100,"y":0},
{"r":4,"c":3,"x":2,"y":-0.85,"y2":0.12},{"r":4,"c":3,"x":8.5,"y":-0.8,"y2":0.12},{"r":4,"c":3,"x":15.5,"y":-0.85,"y2":0.12},{"r":4,"c":3,"x":22,"y":-0.8,"y2":0.12},{"r":4,"c":3,"x":29,"y":-0.85,"y2":0.12},{"r":4,"c":3,"x":36,"y":-0.8,"y2":0.12},{"r":4,"c":3,"x":43,"y":-0.85,"y2":0.12},{"r":4,"c":3,"x":49.5,"y":-0.95,"y2":0.12},{"r":4,"c":3,"x":56.5,"y":-0.85,"y2":0.12},{"r":4,"c":3,"x":63,"y":-0.8,"y2":0.12},{"r":4,"c":3,"x":70,"y":-0.85,"y2":0.12},{"r":4,"c":3,"x":77,"y":-0.8,"y2":0.12},{"r":4,"c":3,"x":84,"y":-0.85,"y2":0.12},{"r":4,"c":3,"x":90.5,"y":-0.8,"y2":0.12},{"r":4,"c":3,"x":97.5,"y":-0.85,"y2":0.12},

{"r":4,"c":4,"x":0,"y":0},{"r":4,"c":4,"x":5,"y":0.05},{"r":4,"c":4,"x":10,"y":0.12},{"r":4,"c":4,"x":15,"y":0.15},{"r":4,"c":4,"x":20,"y":0.08},{"r":4,"c":4,"x":25,"y":-0.08},{"r":4,"c":4,"x":30,"y":-0.1},{"r":4,"c":4,"x":35,"y":-0.05},{"r":4,"c":4,"x":40,"y":0.02},{"r":4,"c":4,"x":45,"y":0.1},{"r":4,"c":4,"x":50,"y":0.05},{"r":4,"c":4,"x":55,"y":0.08},{"r":4,"c":4,"x":60,"y":0.02},{"r":4,"c":4,"x":65,"y":-0.05},{"r":4,"c":4,"x":70,"y":-0.1},{"r":4,"c":4,"x":75,"y":-0.18},{"r":4,"c":4,"x":80,"y":-0.05},{"r":4,"c":4,"x":85,"y":0.05},{"r":4,"c":4,"x":90,"y":0.1},{"r":4,"c":4,"x":95,"y":0.08},{"r":4,"c":4,"x":100,"y":0.1},
{"r":4,"c":4,"x":1,"y":-0.75,"y2":0.25},{"r":4,"c":4,"x":7.5,"y":-0.7,"y2":0.3},{"r":4,"c":4,"x":14,"y":-0.65,"y2":0.45},{"r":4,"c":4,"x":20.5,"y":-0.7,"y2":0.4},{"r":4,"c":4,"x":27,"y":-0.85,"y2":0.2},{"r":4,"c":4,"x":33.5,"y":-0.8,"y2":0.2},{"r":4,"c":4,"x":40,"y":-0.75,"y2":0.3},{"r":4,"c":4,"x":46.5,"y":-0.7,"y2":0.35},{"r":4,"c":4,"x":53,"y":-0.7,"y2":0.3},{"r":4,"c":4,"x":59.5,"y":-0.75,"y2":0.3},{"r":4,"c":4,"x":66,"y":-0.8,"y2":0.25},{"r":4,"c":4,"x":72.5,"y":-0.9,"y2":0.15},{"r":4,"c":4,"x":79,"y":-0.85,"y2":0.2},{"r":4,"c":4,"x":85.5,"y":-0.75,"y2":0.35},{"r":4,"c":4,"x":92,"y":-0.7,"y2":0.4},{"r":4,"c":4,"x":98.5,"y":-0.7,"y2":0.35},

{"r":5,"c":3,"x":0,"y":0},{"r":5,"c":3,"x":5,"y":-0.02},{"r":5,"c":3,"x":10,"y":0.02},{"r":5,"c":3,"x":15,"y":-0.01},{"r":5,"c":3,"x":20,"y":0.02},{"r":5,"c":3,"x":25,"y":-0.02},{"r":5,"c":3,"x":30,"y":0.02},{"r":5,"c":3,"x":35,"y":0},{"r":5,"c":3,"x":40,"y":0.02},{"r":5,"c":3,"x":45,"y":-0.02},{"r":5,"c":3,"x":50,"y":0.02},{"r":5,"c":3,"x":55,"y":-0.01},{"r":5,"c":3,"x":60,"y":0.02},{"r":5,"c":3,"x":65,"y":-0.02},{"r":5,"c":3,"x":70,"y":0.02},{"r":5,"c":3,"x":75,"y":0},{"r":5,"c":3,"x":80,"y":0.02},{"r":5,"c":3,"x":85,"y":-0.02},{"r":5,"c":3,"x":90,"y":0.02},{"r":5,"c":3,"x":95,"y":-0.01},{"r":5,"c":3,"x":100,"y":0},
{"r":5,"c":3,"x":2,"y":-0.1,"y2":0.9},{"r":5,"c":3,"x":8.5,"y":-0.1,"y2":0.85},{"r":5,"c":3,"x":15.5,"y":-0.1,"y2":0.9},{"r":5,"c":3,"x":22,"y":-0.1,"y2":0.85},{"r":5,"c":3,"x":29,"y":-0.1,"y2":0.9},{"r":5,"c":3,"x":36,"y":-0.1,"y2":0.85},{"r":5,"c":3,"x":43,"y":-0.1,"y2":0.9},{"r":5,"c":3,"x":49.5,"y":-0.1,"y2":1.0},{"r":5,"c":3,"x":56.5,"y":-0.1,"y2":0.9},{"r":5,"c":3,"x":63,"y":-0.1,"y2":0.85},{"r":5,"c":3,"x":70,"y":-0.1,"y2":0.9},{"r":5,"c":3,"x":77,"y":-0.1,"y2":0.85},{"r":5,"c":3,"x":84,"y":-0.1,"y2":0.9},{"r":5,"c":3,"x":90.5,"y":-0.1,"y2":0.85},{"r":5,"c":3,"x":97.5,"y":-0.1,"y2":0.9},

{"r":5,"c":4,"x":0,"y":0},{"r":5,"c":4,"x":5,"y":0.02},{"r":5,"c":4,"x":10,"y":-0.02},{"r":5,"c":4,"x":15,"y":0.03},{"r":5,"c":4,"x":20,"y":0},{"r":5,"c":4,"x":25,"y":0.02},{"r":5,"c":4,"x":30,"y":-0.02},{"r":5,"c":4,"x":35,"y":0.03},{"r":5,"c":4,"x":40,"y":0},{"r":5,"c":4,"x":45,"y":0.02},{"r":5,"c":4,"x":50,"y":-0.02},{"r":5,"c":4,"x":55,"y":0.03},{"r":5,"c":4,"x":60,"y":0},{"r":5,"c":4,"x":65,"y":0.02},{"r":5,"c":4,"x":70,"y":-0.02},{"r":5,"c":4,"x":75,"y":0.03},{"r":5,"c":4,"x":80,"y":0},{"r":5,"c":4,"x":85,"y":0.02},{"r":5,"c":4,"x":90,"y":-0.02},{"r":5,"c":4,"x":95,"y":0.03},{"r":5,"c":4,"x":100,"y":0},
{"r":5,"c":4,"x":1,"y":-1.0,"y2":0.5},{"r":5,"c":4,"x":7.5,"y":-1.0,"y2":0.45},{"r":5,"c":4,"x":14,"y":-1.0,"y2":0.5},{"r":5,"c":4,"x":20.5,"y":-1.0,"y2":0.45},{"r":5,"c":4,"x":27,"y":-1.0,"y2":0.5},{"r":5,"c":4,"x":33.5,"y":-1.0,"y2":0.45},{"r":5,"c":4,"x":40,"y":-1.0,"y2":0.5},{"r":5,"c":4,"x":46.5,"y":-1.0,"y2":0.45},{"r":5,"c":4,"x":53,"y":-1.0,"y2":0.5},{"r":5,"c":4,"x":59.5,"y":-1.0,"y2":0.45},{"r":5,"c":4,"x":66,"y":-1.0,"y2":0.5},{"r":5,"c":4,"x":72.5,"y":-1.0,"y2":0.45},{"r":5,"c":4,"x":79,"y":-1.0,"y2":0.5},{"r":5,"c":4,"x":85.5,"y":-1.0,"y2":0.45},{"r":5,"c":4,"x":92,"y":-1.0,"y2":0.5},{"r":5,"c":4,"x":98.5,"y":-1.0,"y2":0.45}
]
},
"hconcat": [
{
"data": {"name": "fetal"},
"title": {"text": "Fetal ECG and interferences", "font": "Liberation Serif", "fontSize": 22.5, "fontWeight": "normal", "color": "black", "anchor": "middle", "offset": 17, "dx": 55},
"bounds": "flush",
"facet": {
"row": {"field": "r", "type": "ordinal", "header": {"title": null, "labelExpr": "'y' + ['\u2081','\u2082','\u2083','\u2084','\u2085'][datum.value - 1] + '(\u2009t\u2009)'", "labelAngle": 0, "labelOrient": "left", "labelFont": "Liberation Serif", "labelFontStyle": "italic", "labelFontSize": 22, "labelColor": "black", "labelPadding": 14, "labelAlign": "left", "labelBaseline": "middle"}},
"column": {"field": "c", "type": "ordinal", "header": {"title": null, "labels": false}}
},
"spacing": {"row": 39.5, "column": 42},
"spec": {
"width": 117, "height": 30,
"layer": [
{"transform": [{"filter": "!isValid(datum.y2)"}], "mark": {"type": "line", "color": "#0000ff", "strokeWidth": 1.5}, "encoding": {"x": {"field": "x", "type": "quantitative", "scale": {"domain": [0, 100]}, "axis": null}, "y": {"field": "y", "type": "quantitative", "scale": {"domain": [-1, 1]}, "axis": null}}},
{"transform": [{"filter": "isValid(datum.y2)"}], "mark": {"type": "rule", "color": "#0000ff", "strokeWidth": 1.2}, "encoding": {"x": {"field": "x", "type": "quantitative", "scale": {"domain": [0, 100]}, "axis": null}, "y": {"field": "y", "type": "quantitative", "scale": {"domain": [-1, 1]}, "axis": null}, "y2": {"field": "y2"}}}
]
}
},
{
"data": {"name": "mother"},
"title": {"text": "Mother ECG", "font": "Liberation Serif", "fontSize": 22.5, "fontWeight": "normal", "color": "black", "anchor": "middle", "offset": 17, "dx": -12},
"bounds": "flush",
"facet": {
"row": {"field": "r", "type": "ordinal", "header": {"title": null, "labels": false}},
"column": {"field": "c", "type": "ordinal", "header": {"title": null, "labels": false}}
},
"spacing": {"row": 39.5, "column": 43},
"spec": {
"width": 117, "height": 30,
"layer": [
{"transform": [{"filter": "!isValid(datum.y2)"}], "mark": {"type": "line", "color": "#0000ff", "strokeWidth": 1}, "encoding": {"x": {"field": "x", "type": "quantitative", "scale": {"domain": [0, 100]}, "axis": null}, "y": {"field": "y", "type": "quantitative", "scale": {"domain": [-1, 1]}, "axis": null}}},
{"transform": [{"filter": "isValid(datum.y2)"}], "mark": {"type": "rule", "color": "#0000ff", "strokeWidth": 1.2}, "encoding": {"x": {"field": "x", "type": "quantitative", "scale": {"domain": [0, 100]}, "axis": null}, "y": {"field": "y", "type": "quantitative", "scale": {"domain": [-1, 1]}, "axis": null}, "y2": {"field": "y2"}}}
]
}
}
],
"spacing": 25
}
